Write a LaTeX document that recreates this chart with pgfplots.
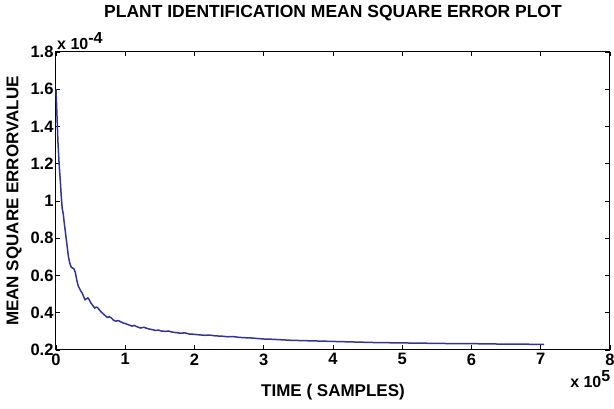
\documentclass[border=0pt]{standalone}
\usepackage{pgfplots}
\pgfplotsset{compat=1.18}
\usepackage{fontspec}
\setmainfont{Liberation Sans}
\definecolor{mseblue}{RGB}{48,52,155}

\begin{document}
\begin{tikzpicture}[x=1pt,y=1pt]
\useasboundingbox (0,0) rectangle (614,409);
\begin{axis}[
    at={(56pt,59pt)}, anchor=south west,
    scale only axis,
    width=554pt, height=298pt,
    xmin=0, xmax=8, ymin=0.2, ymax=1.8,
    xtick={0,1,2,3,4,5,6,7,8},
    xticklabels={0,1,2,3,4,5,6,7,8},
    ytick={0.2,0.4,0.6,0.8,1,1.2,1.4,1.6,1.8},
    yticklabels={0.2,0.4,0.6,0.8,1,1.2,1.4,1.6,1.8},
    tick align=inside,
    major tick length=4.5pt,
    tick style={black, line width=0.6pt},
    axis line style={black, line width=1pt},
    ticklabel style={font=\bfseries\fontsize{16.5}{17}\selectfont},
    xticklabel style={yshift=0pt},
    yticklabel style={xshift=1pt},
    title={PLANT IDENTIFICATION MEAN SQUARE ERROR PLOT},
    title style={font=\bfseries\fontsize{17.5}{18}\selectfont, yshift=22pt},
    xlabel={TIME ( SAMPLES)},
    xlabel style={font=\bfseries\fontsize{17}{18}\selectfont, yshift=-12pt},
    ylabel={MEAN SQUARE ERRORVALUE},
    ylabel style={font=\bfseries\fontsize{17}{18}\selectfont, yshift=2pt},
    clip=false,
]
\addplot[mseblue, line width=1.5pt] coordinates {
(0,1.60) (0.01,1.50) (0.02,1.40) (0.03,1.30) (0.045,1.20) (0.06,1.12)
(0.075,1.03) (0.09,0.96) (0.105,0.93) (0.12,0.88) (0.14,0.82) (0.16,0.76)
(0.18,0.70) (0.20,0.665) (0.22,0.645) (0.24,0.64) (0.26,0.635) (0.28,0.615)
(0.30,0.575) (0.32,0.545) (0.34,0.53) (0.36,0.515) (0.38,0.505) (0.40,0.485)
(0.42,0.47) (0.44,0.475) (0.46,0.48) (0.48,0.47) (0.50,0.455) (0.52,0.445)
(0.54,0.435) (0.56,0.425) (0.58,0.43) (0.60,0.428) (0.62,0.418) (0.65,0.405)
(0.68,0.395) (0.71,0.385) (0.74,0.375) (0.77,0.378) (0.80,0.372) (0.83,0.36)
(0.86,0.355) (0.90,0.358) (0.93,0.352) (0.97,0.345) (1.00,0.342) (1.05,0.335)
(1.10,0.328) (1.13,0.332) (1.17,0.325) (1.22,0.318) (1.27,0.322) (1.32,0.315)
(1.38,0.310) (1.44,0.305) (1.48,0.307) (1.52,0.302) (1.58,0.300) (1.62,0.302)
(1.68,0.296) (1.74,0.293) (1.80,0.290) (1.86,0.292) (1.92,0.286) (2.00,0.284)
(2.08,0.281) (2.15,0.279) (2.22,0.280) (2.30,0.276) (2.40,0.274) (2.48,0.271)
(2.56,0.272) (2.64,0.268) (2.72,0.266) (2.80,0.265) (2.90,0.262) (3.00,0.259)
(3.10,0.258) (3.20,0.256) (3.30,0.254) (3.40,0.252) (3.50,0.251) (3.60,0.250)
(3.70,0.249) (3.80,0.248) (3.90,0.247) (4.00,0.246) (4.20,0.244) (4.40,0.242)
(4.60,0.240) (4.80,0.239) (5.00,0.238) (5.20,0.237) (5.40,0.236) (5.60,0.235)
(5.80,0.234) (6.00,0.234) (6.20,0.233) (6.40,0.232) (6.60,0.231) (6.80,0.231)
(7.00,0.230) (7.05,0.230)
};
\node[anchor=south west, font=\bfseries\fontsize{16}{17}\selectfont, inner sep=1pt]
    at ([yshift=1pt]rel axis cs:0,1) {x 10$^{\textbf{-4}}$};
\node[anchor=north east, font=\bfseries\fontsize{16}{17}\selectfont, inner sep=1pt]
    at ([xshift=2pt,yshift=-19pt]rel axis cs:1,0) {x 10$^{\textbf{5}}$};
\end{axis}
\end{tikzpicture}
\end{document}
